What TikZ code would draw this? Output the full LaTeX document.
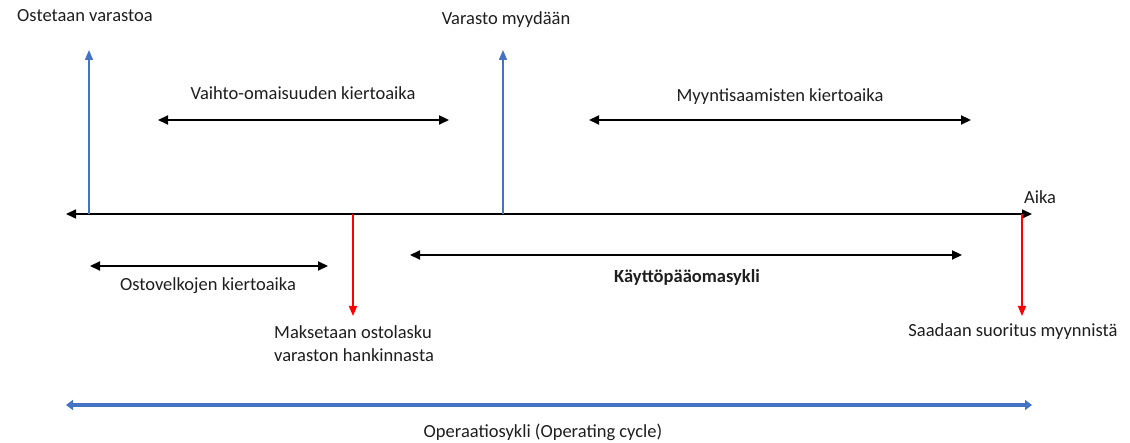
\documentclass[tikz,border=0pt]{standalone}
\usepackage{fontspec}
\setmainfont{Carlito}
\usetikzlibrary{arrows.meta}
\definecolor{oblue}{HTML}{4472C4}
\definecolor{ored}{HTML}{FF0000}
\definecolor{txt}{HTML}{1E1E1E}
\begin{document}
\begin{tikzpicture}[x=1pt,y=-1pt,
  lbl/.style={font=\fontsize{18.5}{23}\selectfont, text=txt, inner sep=0pt},
  blk/.style={line width=2.2pt, {Triangle[length=10pt,width=9pt]}-{Triangle[length=10pt,width=9pt]}},
  axis/.style={line width=1.6pt, {Triangle[length=10pt,width=9pt]}-{Triangle[length=10pt,width=9pt]}},
  bup/.style={oblue, line width=1.4pt, -{Triangle[length=10pt,width=8pt]}},
  rdown/.style={ored, line width=1.4pt, -{Triangle[length=10pt,width=8pt]}},
  bthick/.style={oblue, line width=3.2pt, {Triangle[length=7pt,width=10pt]}-{Triangle[length=7pt,width=10pt]}}]
\useasboundingbox (0,0) rectangle (1130,443);
% main time axis
\coordinate (axL) at (66,214);
\coordinate (axR) at (1032,214);
\draw[axis] (axL) -- (axR);
\node[lbl] (aika) at (1040,197) {Aika};
% purchase inventory
\coordinate (p1) at (89,214);
\coordinate (p1t) at (89,50);
\draw[bup] (p1) -- (p1t);
\node[lbl] (ost) at (85,16) {Ostetaan varastoa};
% sell inventory
\coordinate (p2) at (503,214);
\coordinate (p2t) at (503,50);
\draw[bup] (p2) -- (p2t);
\node[lbl] (myy) at (506,20) {Varasto myydään};
% inventory turnover
\coordinate (v1) at (158,120);
\coordinate (v2) at (449,120);
\draw[blk] (v1) -- (v2);
\node[lbl] (vaihto) at (303,93) {Vaihto-omaisuuden kiertoaika};
% receivables
\coordinate (m1) at (589,120);
\coordinate (m2) at (971,120);
\draw[blk] (m1) -- (m2);
\node[lbl] (myyntis) at (780,97) {Myyntisaamisten kiertoaika};
% pay invoice
\coordinate (r1) at (353,214);
\coordinate (r1b) at (353,316);
\draw[rdown] (r1) -- (r1b);
\node[lbl, align=left, anchor=west] (maks) at (274,344) {Maksetaan ostolasku\\varaston hankinnasta};
% receive payment
\coordinate (r2) at (1022,214);
\coordinate (r2b) at (1022,316);
\draw[rdown] (r2) -- (r2b);
\node[lbl] (saad) at (1013,332) {Saadaan suoritus myynnistä};
% payables
\coordinate (o1) at (90,266);
\coordinate (o2) at (328,266);
\draw[blk] (o1) -- (o2);
\node[lbl] (ostov) at (208,286) {Ostovelkojen kiertoaika};
% working capital cycle
\coordinate (k1) at (410,255);
\coordinate (k2) at (962,255);
\draw[blk] (k1) -- (k2);
\node[lbl, font=\fontsize{18.5}{23}\selectfont\bfseries] (kay) at (687,277) {Käyttöpääomasykli};
% operating cycle
\coordinate (c1) at (66,405);
\coordinate (c2) at (1032,405);
\draw[bthick] (c1) -- (c2);
\node[lbl] (oper) at (543,432) {Operaatiosykli (Operating cycle)};
\end{tikzpicture}
\end{document}
